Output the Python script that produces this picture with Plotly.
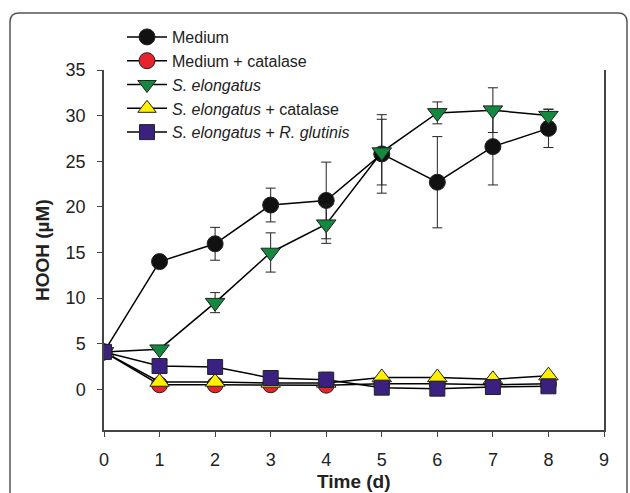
import plotly.graph_objects as go

# ---- data ----
days = [0, 1, 2, 3, 4, 5, 6, 7, 8]

medium = [4.1, 14.0, 15.95, 20.2, 20.7, 25.8, 22.7, 26.6, 28.6]
medium_err = [0, 0, 1.8, 1.85, 4.2, 4.3, 5.0, 4.2, 2.1]

medium_cat = [4.1, 0.5, 0.5, 0.5, 0.45, 0.6, 0.6, 0.5, 0.6]
medium_cat_err = [0, 0, 0, 0, 0, 0, 0, 0, 0]

selong = [4.1, 4.4, 9.5, 15.0, 18.1, 26.0, 30.3, 30.6, 30.0]
selong_err = [0, 0, 1.1, 2.15, 2.1, 3.6, 1.2, 2.45, 0.7]

selong_cat = [4.1, 0.8, 0.8, 0.7, 0.7, 1.3, 1.3, 1.1, 1.5]
selong_cat_err = [0, 0, 0, 0, 0, 0, 0, 0, 0]

selong_rg = [4.1, 2.55, 2.45, 1.24, 1.06, 0.18, 0.07, 0.25, 0.33]
selong_rg_err = [0, 0, 0, 0, 0.8, 0, 0, 0, 0]

names = ["Medium", "Medium + catalase", "<i>S. elongatus</i>",
         "<i>S. elongatus</i> + catalase", "<i>S. elongatus</i> + <i>R. glutinis</i>"]
x_ticks = [0, 1, 2, 3, 4, 5, 6, 7, 8, 9]
y_ticks = [0, 5, 10, 15, 20, 25, 30, 35]

# ---- layout geometry (pixels) ----
W, H = 630, 493
L, R, T, B = 104, 26, 70, 63
PW, PH = W - L - R, H - T - B

def px(xp):
    return (xp - L) / PW

def py(yp):
    return (H - B - yp) / PH

series = [
    (medium, medium_err, "circle", "#111111", 16),
    (medium_cat, medium_cat_err, "circle", "#E8232A", 16),
    (selong, selong_err, "triangle-down", "#12893F", 17),
    (selong_cat, selong_cat_err, "triangle-up", "#FFF000", 17),
    (selong_rg, selong_rg_err, "square", "#3A2180", 15),
]

fig = go.Figure()
for (vals, err, sym, col, sz), nm in zip(series, names):
    fig.add_trace(go.Scatter(
        x=days, y=vals, name=nm, mode="lines+markers",
        line=dict(color="black", width=1.5),
        marker=dict(symbol=sym, color=col, size=sz,
                    line=dict(color="#222222", width=1)),
        error_y=dict(type="data", array=err, visible=True,
                     color="#222222", thickness=1, width=5),
    ))

font_fam = "Arial, Liberation Sans, sans-serif"
axis_col = "#444444"

# outer rounded panel border
rr = 9
path = (f"M {px(10)},{py(510)} L {px(10)},{py(13+rr)} "
        f"Q {px(10)},{py(13)} {px(10+rr)},{py(13)} "
        f"L {px(627-rr)},{py(13)} "
        f"Q {px(627)},{py(13)} {px(627)},{py(13+rr)} "
        f"L {px(627)},{py(510)}")

fig.update_layout(
    width=W, height=H,
    margin=dict(l=L, r=R, t=T, b=B),
    paper_bgcolor="white", plot_bgcolor="white",
    font=dict(family=font_fam, color="#222222"),
    showlegend=True,
    legend=dict(x=px(122), y=py(20), xanchor="left", yanchor="top",
                font=dict(size=16, family=font_fam, color="#222222"),
                bgcolor="rgba(0,0,0,0)", borderwidth=0,
                tracegroupgap=0, itemsizing="trace", itemwidth=40),
    xaxis=dict(range=[0, 9], tickvals=x_ticks, ticktext=[str(v) for v in x_ticks],
               showgrid=False, zeroline=False, showline=True,
               linecolor=axis_col, linewidth=1.5, ticks="outside",
               ticklen=5, tickwidth=1.2, tickcolor=axis_col,
               tickfont=dict(size=18, family=font_fam, color="#222222"),
               ticklabelstandoff=8, mirror=False),
    yaxis=dict(range=[-4.46, 35], tickvals=y_ticks, ticktext=[str(v) for v in y_ticks],
               showgrid=False, zeroline=False, showline=True,
               linecolor=axis_col, linewidth=1.5, ticks="outside",
               ticklen=5, tickwidth=1.2, tickcolor=axis_col,
               tickfont=dict(size=18, family=font_fam, color="#222222"),
               ticklabelstandoff=8, mirror=True),
    shapes=[dict(type="path", path=path, xref="paper", yref="paper",
                 line=dict(color="#555555", width=1.5), layer="below")],
    annotations=[
        dict(text="<b>Time (d)</b>", x=px(354), y=py(481), xref="paper", yref="paper",
             xanchor="center", yanchor="middle", showarrow=False,
             font=dict(size=19, family=font_fam, color="#222222")),
        dict(text="<b>HOOH (µM)</b>", x=px(42), y=py(250), xref="paper", yref="paper",
             xanchor="center", yanchor="middle", showarrow=False, textangle=-90,
             font=dict(size=19, family=font_fam, color="#222222")),
    ],
)

fig.write_html("out.html")
